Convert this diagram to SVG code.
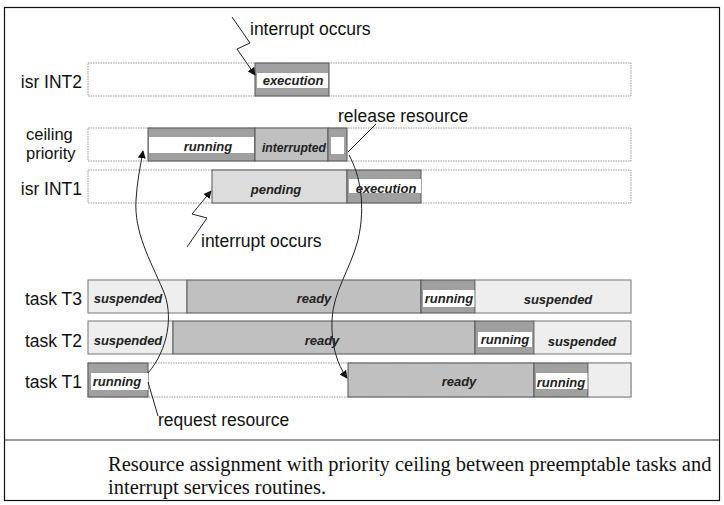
<svg xmlns="http://www.w3.org/2000/svg" width="724" height="505" viewBox="0 0 724 505">
<defs>
<style>
.lbl{font-family:"Liberation Sans",Arial,sans-serif;font-size:17.5px;fill:#111}
.lbs{font-family:"Liberation Sans",Arial,sans-serif;font-size:16.5px;fill:#111}
.in{font-family:"Liberation Sans",Arial,sans-serif;font-size:13px;font-weight:bold;font-style:italic;fill:#222;text-anchor:middle}
.row{fill:#fff;stroke:#999;stroke-width:1;stroke-dasharray:1.5 1}
.dk{fill:#a0a0a0;stroke:#555;stroke-width:1}
.wh{fill:#fff}
.rd{fill:#c0c0c0;stroke:#555;stroke-width:1}
.pd{fill:#dcdcdc;stroke:#555;stroke-width:1}
.sp{fill:#eeeeee;stroke:#777;stroke-width:1}
.ln{fill:none;stroke:#222;stroke-width:1}
.cap{font-family:"Liberation Serif","Times New Roman",serif;font-size:20.5px;fill:#111}
</style>
<marker id="ah" viewBox="0 0 10 10" refX="9" refY="5" markerWidth="8" markerHeight="8" markerUnits="userSpaceOnUse" orient="auto">
<path d="M0,0 L10,5 L0,10 z" fill="#111"/>
</marker>
</defs>
<rect x="0" y="0" width="724" height="505" fill="#fff"/>
<rect x="4.5" y="7.5" width="715" height="493" fill="none" stroke="#111" stroke-width="1.2"/>
<line x1="4.5" y1="440" x2="719.5" y2="440" stroke="#333" stroke-width="1.2"/>

<g id="row-int2">
<text class="lbl" x="82" y="88" text-anchor="end">isr INT2</text>
<rect class="row" x="88" y="63" width="543" height="33"/>
<rect class="dk" x="255" y="63" width="74" height="33"/>
<rect class="wh" x="257" y="73" width="71" height="15"/>
<text class="in" x="293" y="85">execution</text>
</g>

<g id="row-ceiling">
<text class="lbs" x="26" y="140">ceiling</text>
<text class="lbs" x="26" y="159">priority</text>
<rect class="row" x="88" y="128" width="543" height="33"/>
<rect class="dk" x="148" y="128" width="107" height="33"/>
<rect class="wh" x="149" y="137" width="105" height="16"/>
<text class="in" x="208" y="151">running</text>
<rect class="rd" x="255" y="128" width="73" height="33"/>
<text class="in" x="294" y="152" textLength="64" lengthAdjust="spacingAndGlyphs">interrupted</text>
<rect class="dk" x="328" y="128" width="19" height="33"/>
<rect class="wh" x="331" y="137" width="13" height="17"/>
</g>

<g id="row-int1">
<text class="lbl" x="82" y="195" text-anchor="end">isr INT1</text>
<rect class="row" x="88" y="170" width="543" height="33"/>
<rect class="pd" x="212" y="170" width="135" height="33"/>
<text class="in" x="276" y="194">pending</text>
<rect class="dk" x="347" y="170" width="74" height="33"/>
<rect class="wh" x="349" y="179" width="72" height="14"/>
<text class="in" x="386" y="193">execution</text>
</g>

<g id="row-t3">
<text class="lbl" x="82" y="305" text-anchor="end">task T3</text>
<rect class="sp" x="88" y="280" width="99" height="33"/>
<text class="in" x="128" y="303">suspended</text>
<rect class="rd" x="187" y="280" width="234" height="33"/>
<text class="in" x="314" y="303">ready</text>
<rect class="dk" x="421" y="280" width="54" height="33"/>
<rect class="wh" x="423" y="290" width="52" height="17"/>
<text class="in" x="449" y="303">running</text>
<rect class="sp" x="475" y="280" width="156" height="33"/>
<text class="in" x="558" y="304">suspended</text>
</g>

<g id="row-t2">
<text class="lbl" x="82" y="347" text-anchor="end">task T2</text>
<rect class="sp" x="88" y="321" width="85" height="33"/>
<text class="in" x="128" y="345">suspended</text>
<rect class="rd" x="173" y="321" width="302" height="33"/>
<text class="in" x="322" y="345">ready</text>
<rect class="dk" x="475" y="321" width="59" height="33"/>
<rect class="wh" x="478" y="332" width="54" height="15"/>
<text class="in" x="505" y="344">running</text>
<rect class="sp" x="534" y="321" width="97" height="33"/>
<text class="in" x="582" y="346">suspended</text>
</g>

<g id="row-t1">
<text class="lbl" x="82" y="388" text-anchor="end">task T1</text>
<rect class="row" x="88" y="363" width="543" height="34"/>
<rect class="dk" x="88" y="363" width="60" height="34"/>
<rect class="wh" x="91" y="373" width="57" height="17"/>
<text class="in" x="117" y="386">running</text>
<rect class="rd" x="348" y="363" width="186" height="34"/>
<text class="in" x="459" y="386">ready</text>
<rect class="dk" x="534" y="363" width="54" height="34"/>
<rect class="wh" x="536" y="373" width="52" height="16"/>
<text class="in" x="561" y="387">running</text>
<rect class="sp" x="588" y="363" width="43" height="34"/>
</g>

<g id="annotations">
<text class="lbl" x="250" y="35">interrupt occurs</text>
<text class="lbl" x="338" y="122">release resource</text>
<text class="lbl" x="201" y="247">interrupt occurs</text>
<text class="lbl" x="158" y="426">request resource</text>
</g>

<g id="connectors">
<path class="ln" d="M232,17 L250,43 L237,49 L255,75" marker-end="url(#ah)"/>
<path class="ln" d="M187,247 L207,218 L192,214 L211,191" marker-end="url(#ah)"/>
<path class="ln" d="M148,373 C168,350 174,315 163,290 C150,260 134,232 136,200 C137,182 140,168 143,151" marker-end="url(#ah)"/>
<path class="ln" d="M349,155 C360,175 366,205 358,240 C350,270 333,292 332,320 C331,345 337,364 347,378" marker-end="url(#ah)"/>
<path class="ln" d="M148,382 L158,416"/>
<path class="ln" d="M348,152 L376,124"/>
</g>

<g id="caption">
<text class="cap" x="108" y="471">Resource assignment with priority ceiling between preemptable tasks and</text>
<text class="cap" x="108" y="494">interrupt services routines.</text>
</g>
</svg>
